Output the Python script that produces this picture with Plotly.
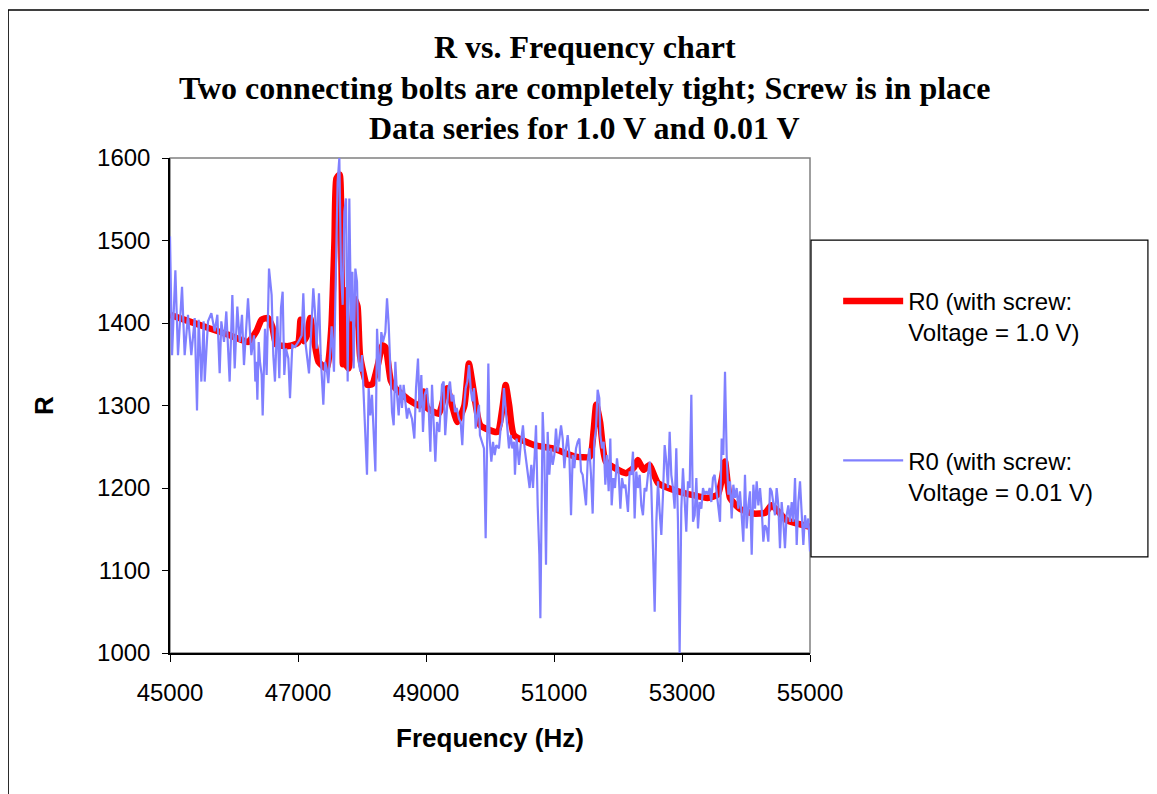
import plotly.graph_objects as go

# R0 with screw, 1.0 V (smooth red curve)
freq_red = [45000, 45300, 45600, 45900, 46100, 46220, 46350, 46430, 46530, 46600,
            46660, 46850, 47000, 47040, 47090, 47140, 47190, 47250, 47320, 47450,
            47520, 47570, 47600, 47650, 47680, 47700, 47720, 47750, 47790, 47840,
            47880, 47930, 47970, 48080, 48160, 48250, 48320, 48370, 48450, 48520,
            48730, 48900, 48960, 49020, 49200, 49280, 49330, 49490, 49600, 49670,
            49740, 49850, 50115, 50200, 50244, 50300, 50375, 50690, 50980, 51340,
            51560, 51620, 51660, 51720, 51810, 52125, 52250, 52310, 52400, 52490,
            52625, 52940, 53400, 53560, 53620, 53672, 53750, 53900, 54115, 54300,
            54400, 54635, 55000]
r_red = [1410, 1402, 1394, 1386, 1380, 1377, 1390, 1404, 1406, 1395,
         1374, 1372, 1376, 1404, 1378, 1385, 1406, 1380, 1353, 1345,
         1393, 1500, 1575, 1580, 1470, 1350, 1440, 1350, 1345, 1390,
         1430, 1420, 1360, 1325, 1326, 1350, 1373, 1370, 1330, 1321,
         1307, 1300, 1317, 1297, 1290, 1310, 1321, 1280, 1300, 1351,
         1320, 1276, 1268, 1300, 1325, 1300, 1264, 1252, 1248, 1238,
         1238, 1270, 1301, 1280, 1232, 1218, 1225, 1234, 1222, 1228,
         1206, 1196, 1188, 1192, 1210, 1232, 1188, 1175, 1169, 1170,
         1179, 1161, 1153]

# R0 with screw, 0.01 V (noisy blue curve)
freq_blue = [45000, 45032, 45084, 45125, 45188, 45229, 45281, 45333, 45386, 45422,
             45448, 45490, 45526, 45542, 45594, 45646, 45698, 45740, 45776, 45802,
             45844, 45880, 45932, 45974, 46011, 46052, 46089, 46125, 46156, 46219,
             46271, 46313, 46333, 46349, 46365, 46386,
             46406, 46432, 46448, 46484, 46510, 46547, 46588, 46614, 46640, 46677,
             46708, 46734, 46760, 46786, 46812, 46849, 46875, 46911, 46953, 47005,
             47057, 47083, 47109, 47135, 47172, 47198, 47239, 47265, 47291, 47328,
             47354, 47396, 47422, 47448, 47474, 47500, 47526, 47562, 47593, 47619,
             47646, 47672, 47698, 47724, 47750, 47776, 47802, 47828,
             47850, 47870, 47896, 47922, 47948, 47974, 48000, 48026, 48052, 48078,
             48104, 48130, 48156, 48183, 48209, 48235, 48271, 48302, 48328, 48365,
             48391, 48417, 48443, 48469, 48495, 48521, 48547, 48573, 48599, 48625,
             48651, 48677, 48703, 48729, 48781, 48818, 48844, 48875, 48901, 48927,
             48953, 48979, 49016, 49042, 49068, 49094, 49120, 49146, 49172, 49208,
             49250, 49276,
             49300, 49323, 49349, 49375, 49401, 49427, 49453, 49479, 49515, 49541,
             49567, 49593, 49620, 49646, 49672, 49698, 49724, 49750, 49776, 49802,
             49828, 49843, 49880, 49906, 49932, 49958, 49974, 49994, 50021, 50047,
             50073, 50099, 50140, 50166, 50192, 50218, 50244, 50271, 50297, 50323,
             50349, 50375, 50390, 50416, 50453, 50479, 50515, 50541, 50567, 50593,
             50619, 50646, 50672, 50698, 50719,
             50745, 50771, 50787, 50808, 50823, 50849, 50875, 50901, 50927, 50953,
             50979, 51005, 51031, 51058, 51084, 51110, 51136, 51162, 51188, 51214,
             51240, 51266, 51292, 51318, 51344, 51370, 51396, 51422, 51448, 51474,
             51500, 51526, 51552, 51578, 51604, 51630, 51656, 51682, 51708, 51724,
             51750, 51776, 51802, 51828, 51854, 51880, 51901, 51927, 51953, 51984,
             52011, 52037, 52063, 52089, 52115,
             52156, 52182, 52208, 52234, 52260, 52286, 52312, 52338, 52364, 52390,
             52416, 52442, 52468, 52495, 52521, 52547, 52573, 52599, 52625, 52651,
             52677, 52703, 52729, 52755, 52781, 52807, 52833, 52859, 52885, 52911,
             52937, 52963, 52989, 53015, 53041, 53067, 53093, 53119, 53146, 53172,
             53198, 53224, 53250, 53276, 53302, 53328, 53354, 53380, 53406, 53432,
             53458, 53484, 53510, 53536, 53562,
             53594, 53620, 53646, 53672, 53698, 53724, 53750, 53776, 53802, 53828,
             53854, 53880, 53906, 53932, 53958, 53984, 54010, 54037, 54063, 54089,
             54115, 54141, 54167, 54193, 54219, 54245, 54271, 54297, 54323, 54349,
             54375, 54401, 54427, 54453, 54479, 54505, 54531, 54557, 54583, 54609,
             54635, 54661, 54687, 54714, 54740, 54766, 54792, 54818, 54844, 54870,
             54896, 54922, 54948, 54974, 55000]
r_blue = [1505, 1361, 1464, 1361, 1444, 1361, 1410, 1361, 1406, 1294,
          1404, 1329, 1402, 1329, 1402, 1412, 1390, 1410, 1339, 1402,
          1377, 1414, 1329, 1434, 1345, 1420, 1377, 1410, 1349, 1430,
          1361, 1385, 1329, 1353, 1307, 1377,
          1353, 1337, 1288, 1393, 1337, 1466, 1434, 1361, 1329, 1408,
          1333, 1418, 1438, 1337, 1369, 1357, 1309, 1373, 1371, 1377,
          1385, 1436, 1381, 1361, 1339, 1377, 1442, 1414, 1369, 1436,
          1361, 1301, 1353, 1345, 1327, 1361, 1396, 1341, 1462, 1571,
          1600, 1462, 1422, 1535, 1551, 1329, 1551, 1402,
          1462, 1345, 1466, 1450, 1353, 1341, 1361, 1309, 1276, 1216,
          1321, 1288, 1313, 1268, 1220, 1393, 1329, 1389, 1377, 1389,
          1430, 1398, 1337, 1292, 1276, 1353, 1313, 1288, 1325, 1297,
          1325, 1305, 1284, 1297, 1284, 1260, 1321, 1357, 1292, 1337,
          1268, 1313, 1321, 1297, 1244, 1325, 1272, 1232, 1280, 1268,
          1325, 1329,
          1264, 1297, 1321, 1329, 1305, 1313, 1292, 1297, 1284, 1280,
          1252, 1297, 1321, 1329, 1349, 1321, 1305, 1321, 1272, 1288,
          1301, 1264, 1256, 1248, 1139, 1288, 1351, 1260, 1232, 1256,
          1240, 1252, 1248, 1272, 1280, 1321, 1297, 1272, 1248, 1264,
          1248, 1256, 1216, 1260, 1228, 1252, 1276, 1248, 1232, 1216,
          1200, 1228, 1200, 1240, 1276,
          1179, 1119, 1042, 1159, 1292, 1240, 1107, 1268, 1216, 1248,
          1228, 1240, 1272, 1244, 1260, 1276, 1260, 1224, 1248, 1264,
          1240, 1167, 1240, 1224, 1248, 1256, 1260, 1220, 1216, 1200,
          1179, 1232, 1248, 1216, 1169, 1256, 1272, 1319, 1309, 1264,
          1248, 1256, 1204, 1240, 1196, 1260, 1179, 1212, 1200, 1236,
          1216, 1175, 1212, 1200, 1204,
          1171, 1220, 1216, 1244, 1163, 1220, 1200, 1216, 1179, 1167,
          1200, 1196, 1216, 1232, 1200, 1119, 1050, 1159, 1208, 1171,
          1143, 1192, 1252, 1232, 1200, 1268, 1216, 1200, 1175, 1248,
          1159, 1000, 1175, 1224, 1192, 1147, 1208, 1200, 1313, 1159,
          1167, 1212, 1151, 1183, 1175, 1200, 1192, 1196, 1192, 1200,
          1183, 1212, 1216, 1200, 1183,
          1159, 1260, 1240, 1341, 1240, 1192, 1208, 1163, 1204, 1188,
          1200, 1175, 1196, 1167, 1135, 1216, 1151, 1179, 1196, 1119,
          1204, 1175, 1208, 1179, 1200, 1175, 1135, 1155, 1151, 1135,
          1200, 1196, 1179, 1167, 1200, 1179, 1127, 1183, 1159, 1127,
          1167, 1179, 1159, 1183, 1159, 1212, 1131, 1183, 1208, 1159,
          1131, 1167, 1151, 1163, 1123]

x_ticks = [45000, 47000, 49000, 51000, 53000, 55000]
y_ticks = [1000, 1100, 1200, 1300, 1400, 1500, 1600]

title_lines = ["R vs. Frequency chart",
               "Two connecting bolts are completely tight; Screw is in place",
               "Data series for 1.0 V and 0.01 V"]

SANS = "Liberation Sans, Arial, sans-serif"
SERIF = "Liberation Serif, Times New Roman, serif"

fig = go.Figure()

fig.add_trace(go.Scatter(
    x=freq_red, y=r_red, mode='lines',
    name='R0 (with screw:<br>Voltage = 1.0 V)',
    line=dict(color='#FF0000', width=6.5, shape='spline', smoothing=0.5),
    legendgroup='a'
))

fig.add_trace(go.Scatter(
    x=freq_blue, y=r_blue, mode='lines',
    name='R0 (with screw:<br>Voltage = 0.01 V)',
    line=dict(color='#8080FF', width=2.2),
    legendgroup='b'
))

# title lines as separate annotations so the line spacing matches
title_y = [1.224, 1.141, 1.0606]
annotations = []
for txt, yy in zip(title_lines, title_y):
    annotations.append(dict(
        text='<b>' + txt + '</b>', x=0.648, y=yy, xref='paper', yref='paper',
        xanchor='center', yanchor='middle', showarrow=False,
        font=dict(family=SERIF, size=32, color='black')
    ))

shapes = [
    # outer chart border
    dict(type='rect', xref='paper', yref='paper', x0=-0.253, x1=1.56, y0=-0.32, y1=1.299,
         line=dict(color='black', width=1.5), layer='below'),
    # plot area border
    dict(type='rect', xref='paper', yref='paper', x0=0, x1=1, y0=0, y1=1,
         line=dict(color='#808080', width=1.5), layer='below'),
    # legend box
    dict(type='rect', xref='paper', yref='paper', x0=1.0016, x1=1.528, y0=0.194, y1=0.834,
         line=dict(color='black', width=1.2), fillcolor='white', layer='above'),
]

# the page adds an 8px body margin, so the figure is 8px smaller than the window
fig.update_layout(
    width=1149, height=786, autosize=False,
    margin=dict(l=162, r=347, t=150, b=141, pad=0),
    paper_bgcolor='white', plot_bgcolor='white',
    font=dict(family=SANS, color='black'),
    annotations=annotations,
    shapes=shapes,
    showlegend=True,
    legend=dict(
        x=1.044, xanchor='left', y=0.756, yanchor='top',
        bgcolor='rgba(0,0,0,0)', borderwidth=0,
        font=dict(family=SANS, size=24, color='black'),
        itemwidth=60, valign='top', tracegroupgap=94,
    ),
    xaxis=dict(
        range=[45000, 55000], tickvals=x_ticks, tickformat='d',
        ticks='outside', ticklen=7, tickcolor='black', tickwidth=1,
        ticklabelstandoff=10,
        showline=True, linecolor='black', linewidth=1.5,
        showgrid=False, zeroline=False,
        tickfont=dict(family=SANS, size=24, color='black'),
        title=dict(text='<b>Frequency (Hz)</b>', font=dict(family=SANS, size=26, color='black'),
                   standoff=24),
    ),
    yaxis=dict(
        range=[1000, 1600], tickvals=y_ticks,
        ticks='outside', ticklen=6, tickcolor='black', tickwidth=1,
        ticklabelstandoff=7,
        showline=True, linecolor='black', linewidth=1.5,
        showgrid=False, zeroline=False,
        tickfont=dict(family=SANS, size=24, color='black'),
        title=dict(text='<b>R</b>', font=dict(family=SANS, size=26, color='black'),
                   standoff=36),
    ),
)

fig.write_html("out.html")
